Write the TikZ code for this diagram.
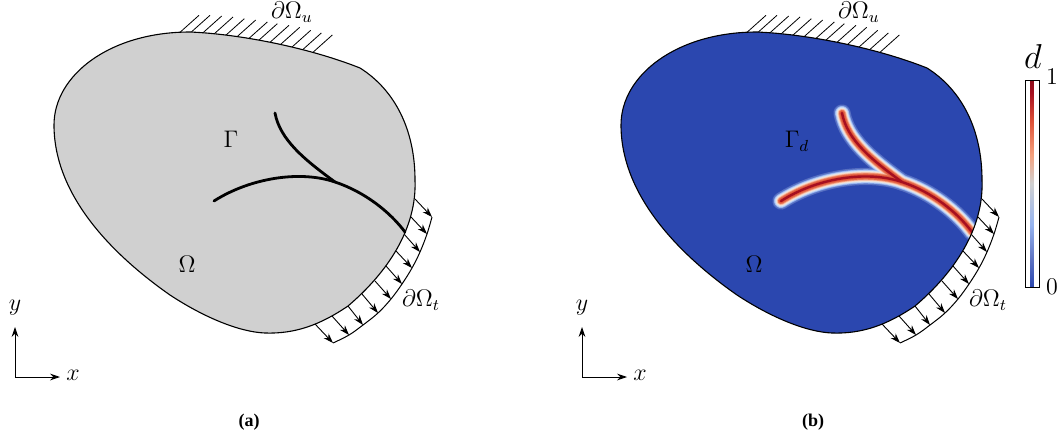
\documentclass[tikz,border=0pt]{standalone}
\usepackage{fontspec}
\usepackage{amsmath}
\usetikzlibrary{arrows.meta}
\newfontfamily\captfont{Liberation Serif}
\definecolor{bodygray}{HTML}{D0D0D0}
\definecolor{dmgb}{HTML}{2B47AF}
\definecolor{dmgr}{HTML}{A50F20}
\definecolor{dmgl}{HTML}{96B4F0}
\definecolor{dmgs}{HTML}{F4A07C}
\definecolor{dmgo}{HTML}{DE5238}
\pgfdeclareverticalshading{dcbar}{14bp}{
  color(0bp)=(dmgb); color(25bp)=(dmgb); color(32bp)=(dmgb!75!white); color(40bp)=(dmgl);
  color(47bp)=(bodygray!70!dmgl); color(50bp)=(bodygray); color(57bp)=(dmgs);
  color(65bp)=(dmgo); color(72bp)=(dmgr); color(75bp)=(dmgr!85!black); color(100bp)=(dmgr!85!black)}
\tikzset{
  lbl/.style   = {inner sep=0pt, font=\large},
  capt/.style  = {inner sep=0pt, font=\captfont\small\bfseries},
  body/.style  = {draw=black, line width=0.55pt},
  hatch/.style = {line width=0.4pt},
  load/.style  = {-{Stealth[length=5pt,width=3.4pt]}, line width=0.45pt},
  edge/.style  = {line width=0.5pt},
  axis/.style  = {-{Stealth[length=5pt,width=3.4pt]}, line width=0.45pt},
  crack/.style = {line width=1.4pt, line cap=round},
}
% domain outline, in pixels of the left panel
\newcommand{\outline}{(190,32) .. controls (240,34) and (310,48) .. (360,68)
  .. controls (395,90) and (415,130) .. (415,180)
  .. controls (417,228) and (388,272) .. (348,306)
  .. controls (320,325) and (295,334) .. (265,333)
  .. controls (240,332) and (205,318) .. (170,295)
  .. controls (120,260) and (54,200) .. (54,125)
  .. controls (54,75) and (110,32) .. (190,32) -- cycle}
\newcommand{\mainpath}{(214,201) .. controls (250,178) and (300,170) .. (335,182) .. controls (365,192) and (390,212) .. (405,232)}
\newcommand{\branchpath}{(275,113) .. controls (280,140) and (305,160) .. (335,182)}
% wall hatching and traction arrows
\newcommand{\bcmarks}{
  \foreach \bx/\by in {180/32.3,191/32.3,202.7/33,214/34,225.3/35.7,236.7/37,248.3/39,
                       258.3/40.7,270/42.3,280.7/44.3,291.7/47.3,302.3/50,313.3/52}
    \draw[hatch] (\bx,\by) -- ++(19,-17);
  \foreach \i/\ax/\ay/\bx/\by in {1/315/324/333/343, 2/332/316/349/335, 3/348/306/363/325,
                                  4/362/294/378/313, 5/375/281/391/299, 6/386/266/402/284,
                                  7/396/251/412/268, 8/404/234/420/252, 9/411/217/427/234,
                                  10/415/199/432/217}{
    \coordinate (s\i) at (\ax,\ay);
    \coordinate (e\i) at (\bx,\by);
    \draw[load] (s\i) -- (e\i);
  }
  \draw[edge] plot[smooth, tension=0.6] coordinates {(e1) (e2) (e3) (e4) (e5) (e6) (e7) (e8) (e9) (e10)};
}
\begin{document}
\begin{tikzpicture}[x=0.5pt, y=-0.5pt]
  \useasboundingbox (0,0) rectangle (1060,441);

  % left panel
  \bcmarks
  \fill[bodygray] \outline;
  \draw[body] \outline;
  \draw[crack] \mainpath;
  \draw[crack] \branchpath;
  \node[lbl] (gam) at (231,139) {$\Gamma$};
  \node[lbl] (om)  at (187,264) {$\Omega$};
  \node[lbl] (du)  at (292,12)  {$\partial\Omega_u$};
  \node[lbl] (dt)  at (421,300) {$\partial\Omega_t$};
  \node[lbl] (ya)  at (15,308)  {$y$};
  \node[lbl] (xa)  at (73,375)  {$x$};
  \coordinate (oa) at (15,377);
  \draw[axis] (oa) -- (15,327);
  \draw[axis] (oa) -- (60,377);
  \node[capt] (capa) at (249,422) {(a)};

  % right panel
  \begin{scope}[xshift=283.5pt]
    \bcmarks
    \fill[dmgb] \outline;
    \begin{scope}
      \clip \outline;
      \foreach \w/\c in {8.6/dmgb!80!white, 7.8/dmgb!55!dmgl, 7/dmgl, 6.2/dmgl!55!white, 5.4/bodygray!50!white,
                         4.6/dmgs!45!white, 3.8/dmgs, 3/dmgo!70!dmgs, 2/dmgo, 1.2/dmgr}{
        \draw[line width=\w pt, line cap=round, color=\c] \branchpath;
        \draw[line width=\w pt, line cap=round, color=\c] \mainpath;
      }
    \end{scope}
    \draw[body] \outline;
    \node[lbl] (gamd) at (230,141) {$\Gamma_d$};
    \node[lbl] (omb)  at (187,264) {$\Omega$};
    \node[lbl] (dub)  at (292,12)  {$\partial\Omega_u$};
    \node[lbl] (dtb)  at (421,300) {$\partial\Omega_t$};
    \node[lbl] (yb)   at (15,308)  {$y$};
    \node[lbl] (xb)   at (73,375)  {$x$};
    \coordinate (ob) at (15,377);
    \draw[axis] (ob) -- (15,327);
    \draw[axis] (ob) -- (60,377);
    \node[capt] (capb) at (246,422) {(b)};
  \end{scope}

  % colour bar
  \node[inner sep=0pt, minimum width=7pt, minimum height=103.5pt, shading=dcbar, draw=black, line width=0.5pt] (cbar) at (1032,183.5) {};
  \node[lbl, font=\LARGE] (dlbl) at (1033,56) {$d$};
  \node[lbl] (one)  at (1052,77)  {$1$};
  \node[lbl] (zero) at (1052,287) {$0$};
\end{tikzpicture}
\end{document}
